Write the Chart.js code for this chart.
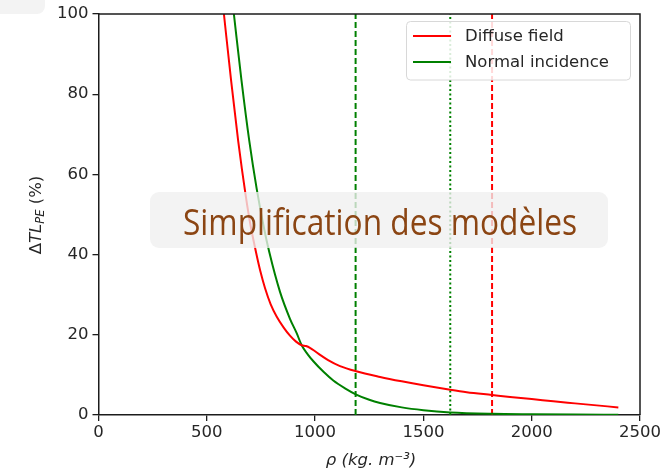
<!DOCTYPE html>
<html>
<head>
<meta charset="utf-8">
<script src="https://cdn.jsdelivr.net/npm/chart.js@4.4.0/dist/chart.umd.min.js"></script>
<style>
  body { margin: 0; background: #fff; }
  canvas { display: block; }
</style>
</head>
<body>
<canvas id="tlChart" width="667" height="473"></canvas>
<script>
// Diffuse field (red)
var rhoDiffuse = [579, 612, 645, 680, 703, 726, 747, 769, 795, 823, 855, 884, 912, 938, 958, 978, 1000, 1023, 1060, 1115, 1190, 1300, 1400, 1500, 1624, 1700, 1817, 1900, 2000, 2100, 2200, 2300, 2400];
var tlDiffuse = [100, 83.5, 68.3, 54.6, 47, 40.9, 35.9, 31.6, 27.6, 24.5, 21.8, 19.8, 18.3, 17.4, 17.2, 16.7, 15.9, 15.0, 13.7, 12.2, 10.9, 9.5, 8.4, 7.4, 6.3, 5.7, 5.0, 4.5, 4.0, 3.4, 2.9, 2.4, 1.9];

// Normal incidence (green)
var rhoNormal = [625, 660, 696, 730, 763, 789, 838, 884, 915, 938, 965, 992, 1040, 1084, 1140, 1190, 1250, 1300, 1400, 1500, 1624, 1817, 2000, 2200, 2400];
var tlNormal = [100, 83.5, 68.4, 56.5, 46.9, 40.5, 30.7, 24.0, 20.4, 17.4, 15.2, 13.4, 10.7, 8.6, 6.6, 5.1, 3.8, 3.0, 1.9, 1.2, 0.65, 0.3, 0.18, 0.1, 0.05];

// vertical markers
var vlineNormalDash = 1187;
var vlineNormalDot = 1624;
var vlineDiffuseDash = 1817;

var xTicks = [0, 500, 1000, 1500, 2000, 2500];
var yTicks = [0, 20, 40, 60, 80, 100];

var seriesLabels = ["Diffuse field", "Normal incidence"];
var overlayTitle = "Simplification des modèles";

function pts(xs, ys) {
    return xs.map(function (x, i) { return { x: x, y: ys[i] }; });
}

var RED = "#ff0000";
var GREEN = "#008000";
var AXIS = "#1c1c1c";
var TXT = "#262626";

var decorPlugin = {
    id: "decor",
    beforeDraw: function (chart) {
        var c = chart.ctx;
        // faint slide box top-left
        c.save();
        c.fillStyle = "#f3f3f3";
        c.beginPath();
        c.roundRect(-12, -12, 57, 26, 8);
        c.fill();
        c.restore();
    },
    afterDraw: function (chart) {
        var c = chart.ctx;
        var a = chart.chartArea;
        c.save();
        // frame top + right
        c.strokeStyle = AXIS;
        c.lineWidth = 1.5;
        c.beginPath();
        c.moveTo(a.left, a.top);
        c.lineTo(a.right, a.top);
        c.lineTo(a.right, a.bottom);
        c.stroke();

        // legend
        c.fillStyle = "rgba(255,255,255,0.85)";
        c.strokeStyle = "#d8d8d8";
        c.lineWidth = 1;
        c.beginPath();
        c.roundRect(406.5, 21.5, 224, 58.5, 4);
        c.fill();
        c.stroke();
        var rows = [[RED, seriesLabels[0], 36], [GREEN, seriesLabels[1], 62]];
        c.font = "16.5px 'DejaVu Sans'";
        c.textBaseline = "middle";
        rows.forEach(function (r) {
            c.strokeStyle = r[0];
            c.lineWidth = 2;
            c.beginPath();
            c.moveTo(413, r[2]);
            c.lineTo(451, r[2]);
            c.stroke();
            c.fillStyle = TXT;
            c.fillText(r[1], 465, r[2] + 1);
        });

        // y axis title
        c.save();
        c.translate(37, 215);
        c.rotate(-Math.PI / 2);
        c.fillStyle = TXT;
        c.textBaseline = "middle";
        var parts = [
            ["Δ", "16.5px 'DejaVu Sans'", 0],
            ["TL", "italic 16.5px 'DejaVu Sans'", 0],
            ["PE", "italic 11.5px 'DejaVu Sans'", 4],
            [" (%)", "16.5px 'DejaVu Sans'", 0]
        ];
        var total = 0;
        parts.forEach(function (p) { c.font = p[1]; total += c.measureText(p[0]).width; });
        var xx = -total / 2;
        parts.forEach(function (p) {
            c.font = p[1];
            c.fillText(p[0], xx, p[2]);
            xx += c.measureText(p[0]).width;
        });
        c.restore();

        // x axis title
        c.fillStyle = TXT;
        c.textAlign = "center";
        c.textBaseline = "middle";
        c.font = "italic 16.5px 'DejaVu Sans'";
        c.fillText("ρ (kg. m⁻³)", 371, 461);

        // overlay banner
        c.fillStyle = "rgba(240,240,240,0.78)";
        c.beginPath();
        c.roundRect(150, 192, 458, 56, 9);
        c.fill();
        c.font = "37px 'Open Sans'";
        c.textAlign = "left";
        c.textBaseline = "alphabetic";
        var w = c.measureText(overlayTitle).width;
        var sx = 394 / w;
        c.translate(183, 235);
        c.scale(sx, 1);
        c.fillStyle = "#8b4513";
        c.fillText(overlayTitle, 0, 0);
        c.restore();
    }
};

function vline(x, color, dash) {
    return {
        data: [{ x: x, y: 0 }, { x: x, y: 100 }],
        borderColor: color,
        borderWidth: 2,
        borderDash: dash,
        pointRadius: 0,
        showLine: true
    };
}

var ctx = document.getElementById("tlChart").getContext("2d");
var myChart = new Chart(ctx, {
    type: "scatter",
    data: {
        datasets: [
            {
                label: seriesLabels[0],
                data: pts(rhoDiffuse, tlDiffuse),
                borderColor: RED,
                borderWidth: 2,
                pointRadius: 0,
                showLine: true,
                cubicInterpolationMode: "monotone"
            },
            {
                label: seriesLabels[1],
                data: pts(rhoNormal, tlNormal),
                borderColor: GREEN,
                borderWidth: 2,
                pointRadius: 0,
                showLine: true,
                cubicInterpolationMode: "monotone"
            },
            vline(vlineNormalDash, GREEN, [6, 3]),
            vline(vlineNormalDot, GREEN, [2, 2.5]),
            vline(vlineDiffuseDash, RED, [6, 3])
        ]
    },
    options: {
        responsive: false,
        animation: false,
        layout: { padding: { top: 14, right: 27, left: 0, bottom: 0 } },
        plugins: { legend: { display: false }, tooltip: { enabled: false } },
        scales: {
            x: {
                type: "linear",
                min: 0,
                max: 2500,
                afterBuildTicks: function (s) { s.ticks = xTicks.map(function (v) { return { value: v }; }); },
                afterFit: function (s) { s.height = 58; },
                ticks: {
                    color: TXT, font: { family: "DejaVu Sans", size: 16.5 }, padding: 2, maxRotation: 0,
                    callback: function (v) { return String(v); }
                },
                grid: { drawOnChartArea: false, tickLength: 6, color: AXIS, lineWidth: 1.3 },
                border: { color: AXIS, width: 1.5 }
            },
            y: {
                min: 0,
                max: 100,
                afterBuildTicks: function (s) { s.ticks = yTicks.map(function (v) { return { value: v }; }); },
                afterFit: function (s) { s.width = 98.5; },
                ticks: {
                    color: TXT, font: { family: "DejaVu Sans", size: 16.5 }, padding: 4,
                    callback: function (v) { return String(v); }
                },
                grid: { drawOnChartArea: false, tickLength: 6, color: AXIS, lineWidth: 1.3 },
                border: { color: AXIS, width: 1.5 }
            }
        }
    },
    plugins: [decorPlugin]
});
</script>
</body>
</html>
